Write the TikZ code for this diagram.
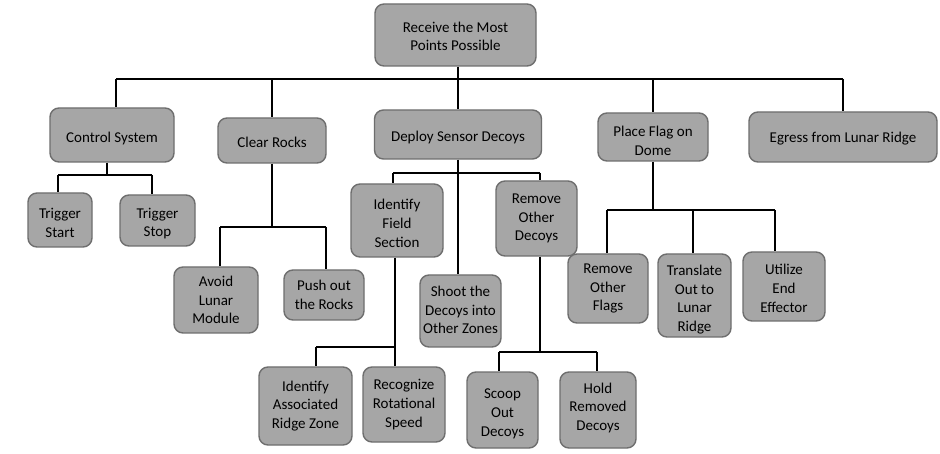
\documentclass[tikz,border=0pt]{standalone}
\usepackage{fontspec}
\setmainfont{Carlito}
\definecolor{boxfill}{HTML}{A6A6A6}
\definecolor{boxline}{HTML}{6E6E6E}
\tikzset{
  box/.style={draw=boxline, fill=boxfill, line width=1.4pt, rounded corners=9pt, inner sep=1pt},
  boxtext/.style={align=center, inner sep=0pt, font=\fontsize{15}{18.7}\selectfont},
  conn/.style={draw=black, line width=2pt}
}
\newcommand\bx[7][0]{\node[box,minimum width=#5pt,minimum height=#6pt,
  label={[boxtext,yshift=#1pt]center:{#7}}] (#2) at (#3,#4) {};}
\begin{document}
\begin{tikzpicture}[x=1pt,y=-1pt]
\useasboundingbox[fill=white] (0,0) rectangle (940,454);
\bx[-1.5]{rec}{455.5}{35}{161}{62}{Receive the Most\\Points Possible}
\bx[-3.5]{ctrl}{112}{135}{124}{54}{Control System}
\bx[-2]{clear}{272}{140.5}{108}{45}{Clear Rocks}
\bx[-3.5]{deploy}{458}{134.5}{167}{49}{Deploy Sensor Decoys}
\bx[-4]{flag}{653}{137}{110}{48}{Place Flag on\\Dome}
\bx[-2]{egress}{843}{137}{188}{50}{Egress from Lunar Ridge}
\bx[-3]{tstart}{60}{220}{64}{54}{Trigger\\Start}
\bx[-3]{tstop}{157.5}{220.5}{75}{51}{Trigger\\Stop}
\bx{avoid}{216}{300}{84}{66}{Avoid\\Lunar\\Module}
\bx{push}{324}{295}{80}{50}{Push out\\the Rocks}
\bx[-3]{idf}{397}{220.5}{92}{73}{Identify\\Field\\Section}
\bx[1]{shoot}{460.5}{311}{81}{72}{Shoot the\\Decoys into\\Other Zones}
\bx{rod}{536.5}{218.5}{81}{75}{Remove\\Other\\Decoys}
\bx{iarz}{305.5}{406}{93}{78}{Identify\\Associated\\Ridge Zone}
\bx{rrs}{404}{404.5}{82}{75}{Recognize\\Rotational\\Speed}
\bx[-4]{scoop}{502.5}{410}{71}{76}{Scoop\\Out\\Decoys}
\bx[2]{hold}{598}{410}{76}{76}{Hold\\Removed\\Decoys}
\bx{rof}{608}{288.5}{80}{69}{Remove\\Other\\Flags}
\bx[-4]{tol}{694.5}{295.5}{73}{83}{Translate\\Out to\\Lunar\\Ridge}
\bx[-2]{uee}{784}{286.5}{82}{69}{Utilize\\End\\Effector}
% top level
\coordinate (tl) at (116,79);
\coordinate (tr) at (843,79);
\draw[conn] (rec.south -| deploy.north) -- (deploy.north);
\draw[conn] (tl) -- (tr);
\draw[conn] (tl) -- (tl |- ctrl.north);
\draw[conn] (tl -| clear.north) -- (clear.north);
\draw[conn] (tl -| flag.north) -- (flag.north);
\draw[conn] (tr) -- (tr |- egress.north);
% control system
\coordinate (c0) at (107,175);
\coordinate (cl) at (58,175);
\coordinate (cr) at (152,175);
\draw[conn] (c0 |- ctrl.south) -- (c0);
\draw[conn] (cl) -- (cr);
\draw[conn] (cl) -- (cl |- tstart.north);
\draw[conn] (cr) -- (cr |- tstop.north);
% clear rocks
\coordinate (rl) at (220,227);
\coordinate (rr) at (326,227);
\draw[conn] (clear.south) -- (clear.south |- rl);
\draw[conn] (rl) -- (rr);
\draw[conn] (rl) -- (rl |- avoid.north);
\draw[conn] (rr) -- (rr |- push.north);
% deploy
\coordinate (dl) at (393,173);
\coordinate (dr) at (540,173);
\draw[conn] (deploy.south) -- (deploy.south |- shoot.north);
\draw[conn] (dl) -- (dr);
\draw[conn] (dl) -- (dl |- idf.north);
\draw[conn] (dr) -- (dr |- rod.north);
% identify field
\coordinate (il) at (316,347);
\coordinate (ir) at (395,347);
\draw[conn] (ir |- idf.south) -- (ir |- rrs.north);
\draw[conn] (il) -- (ir);
\draw[conn] (il) -- (il |- iarz.north);
% remove other decoys
\coordinate (ol) at (499,352);
\coordinate (om) at (540,352);
\coordinate (or) at (597,352);
\draw[conn] (om |- rod.south) -- (om);
\draw[conn] (ol) -- (or);
\draw[conn] (ol) -- (ol |- scoop.north);
\draw[conn] (or) -- (or |- hold.north);
% place flag
\coordinate (fl) at (607,210);
\coordinate (fm) at (693,210);
\coordinate (fr) at (775,210);
\draw[conn] (flag.south) -- (flag.south |- fl);
\draw[conn] (fl) -- (fr);
\draw[conn] (fl) -- (fl |- rof.north);
\draw[conn] (fm) -- (fm |- tol.north);
\draw[conn] (fr) -- (fr |- uee.north);
\end{tikzpicture}
\end{document}
